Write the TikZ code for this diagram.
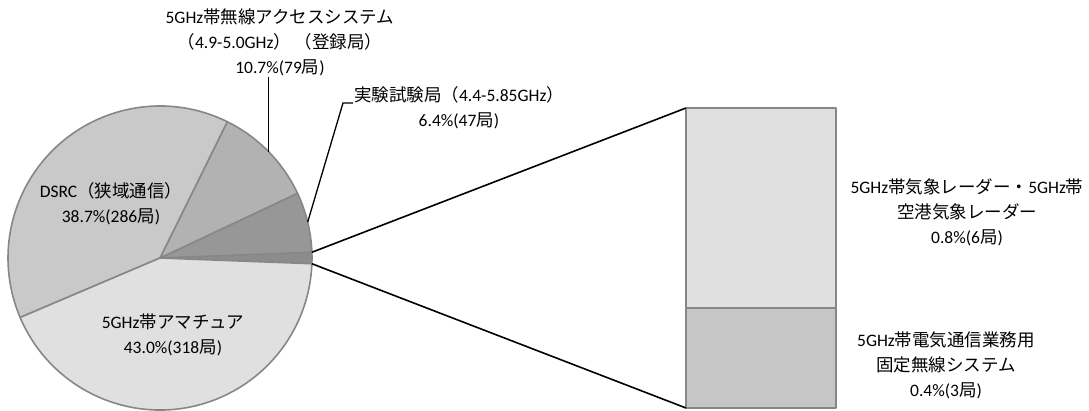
\documentclass[tikz,border=0pt]{standalone}
\usepackage{fontspec}
\setmainfont{Carlito}
\newfontfamily\jp{Noto Sans CJK JP}
\newcommand{\J}[1]{{\jp #1}}
\definecolor{edgegray}{HTML}{878787}
\definecolor{cOther}{HTML}{8C8C8C}
\definecolor{cExp}{HTML}{979797}
\definecolor{cAcc}{HTML}{B2B2B2}
\definecolor{cDsrc}{HTML}{C9C9C9}
\definecolor{cAma}{HTML}{E0E0E0}
\definecolor{cBarTop}{HTML}{E0E0E0}
\definecolor{cBarBot}{HTML}{C6C6C6}
\begin{document}
\begin{tikzpicture}[x=1pt,y=1pt,
  slice/.style={draw=edgegray,line width=1.6pt,line join=round},
  conn/.style={draw=black,line width=1.6pt},
  lead/.style={draw=black,line width=1.3pt},
  lbl/.style={align=center,inner sep=0pt,font=\fontsize{17.5}{25}\selectfont}]
\useasboundingbox (0,0) rectangle (1089,410);
\coordinate (c) at (160,152);
\def\R{152}
% pie slices
\fill[cOther] (c) -- ++(-2.16:\R) arc[start angle=-2.16,end angle=2.16,radius=\R] -- cycle;
\filldraw[slice,fill=cExp] (c) -- ++(2.16:\R) arc[start angle=2.16,end angle=25.2,radius=\R] -- cycle;
\filldraw[slice,fill=cAcc] (c) -- ++(25.2:\R) arc[start angle=25.2,end angle=63.72,radius=\R] -- cycle;
\filldraw[slice,fill=cDsrc] (c) -- ++(63.72:\R) arc[start angle=63.72,end angle=203.04,radius=\R] -- cycle;
\filldraw[slice,fill=cAma] (c) -- ++(203.04:\R) arc[start angle=203.04,end angle=357.84,radius=\R] -- cycle;
\draw[edgegray,line width=1.6pt] ([shift={(-2.16:\R)}]c) arc[start angle=-2.16,end angle=2.16,radius=\R];
% bar
\filldraw[slice,fill=cBarTop] (686,102) rectangle (836,302);
\filldraw[slice,fill=cBarBot] (686,2) rectangle (836,102);
\coordinate (bartl) at (686,302);
\coordinate (barbl) at (686,2);
\coordinate (pu) at ([shift={(2.16:\R)}]c);
\coordinate (pl) at ([shift={(-2.16:\R)}]c);
\draw[conn] (pu) -- (bartl);
\draw[conn] (pl) -- (barbl);
% labels
\node[lbl] (lacc) at (280,368) {5GHz\J{帯無線アクセスシステム}\\\J{（}4.9-5.0GHz\J{）} \J{（登録局）}\\10.7\%(79\J{局})};
\node[lbl] (lexp) at (459,302) {\J{実験試験局（}4.4-5.85GHz\J{）}\\6.4\%(47\J{局})};
\node[lbl] (ldsrc) at (111,206) {DSRC\J{（狭域通信）}\\38.7\%(286\J{局})};
\node[lbl] (lama) at (173,75) {5GHz\J{帯アマチュア}\\43.0\%(318\J{局})};
\node[lbl] (lrad) at (967,198) {5GHz\J{帯気象レーダー・}5GHz\J{帯}\\\J{空港気象レーダー}\\0.8\%(6\J{局})};
\node[lbl] (lfix) at (946,45) {5GHz\J{帯電気通信業務用}\\\J{固定無線システム}\\0.4\%(3\J{局})};
% leaders
\coordinate (accpt) at ([shift={(44.46:\R)}]c);
\coordinate (exppt) at ([shift={(13.68:\R)}]c);
\coordinate (acctop) at (accpt |- 0,333);
\coordinate (expk) at (343,307);
\coordinate (expe) at (353,307);
\draw[lead] (accpt) -- (acctop);
\draw[lead] (exppt) -- (expk) -- (expe);
\end{tikzpicture}
\end{document}
